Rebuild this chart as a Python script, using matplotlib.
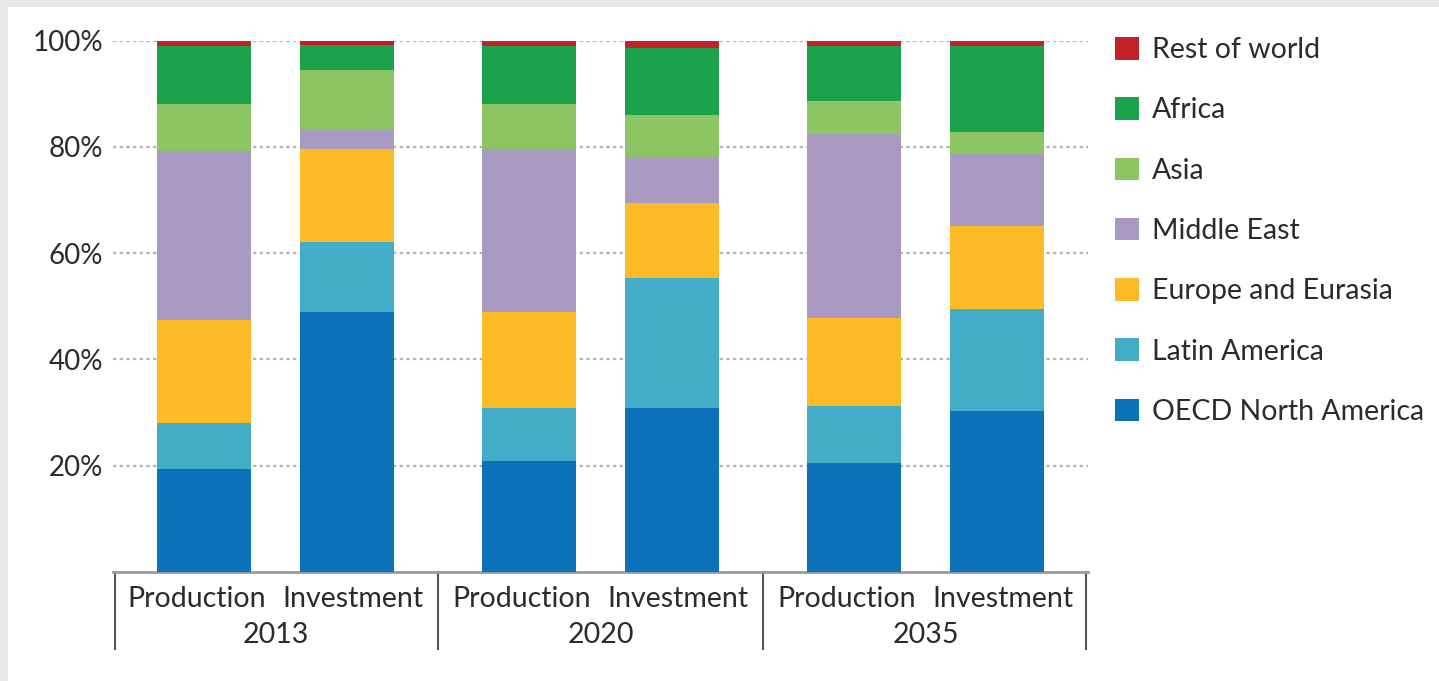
import numpy as np
import matplotlib.pyplot as plt
from matplotlib.patches import Patch, Rectangle
import matplotlib.transforms as mtransforms

plt.rcParams['font.family'] = ['Lato', 'DejaVu Sans']

# shares (%) per region, bars in order: 2013 P/I, 2020 P/I, 2035 P/I
years = ['2013', '2020', '2035']
kinds = ['Production', 'Investment']
regions = ['OECD North America', 'Latin America', 'Europe and Eurasia',
           'Middle East', 'Asia', 'Africa', 'Rest of world']
oecd_na = [19.3, 49.0, 20.8, 30.8, 20.5, 30.3]
latin_am = [8.8, 13.1, 10.0, 24.5, 10.7, 19.2]
europe_eurasia = [19.4, 17.6, 18.2, 14.1, 16.7, 15.7]
middle_east = [31.8, 3.7, 30.7, 8.8, 34.5, 13.5]
asia = [8.8, 11.0, 8.4, 7.8, 6.2, 4.2]
africa = [10.9, 4.7, 10.9, 12.6, 10.4, 16.1]
rest_world = [1.0, 0.9, 1.0, 1.4, 1.0, 1.0]

series = [oecd_na, latin_am, europe_eurasia, middle_east, asia, africa, rest_world]
colors = ['#0b71b9', '#43acc6', '#fdbb27', '#a99ac1', '#8cc563', '#1aa34a', '#c4202a']

group_gap = 2.27
x = np.array([g * group_gap + k for g in range(len(years)) for k in range(len(kinds))])
group_centers = np.array([g * group_gap + 0.5 for g in range(len(years))])

fig = plt.figure(figsize=(14.39, 6.81), dpi=100, facecolor='#e9e9e9')
fig.patches.append(Rectangle((8 / 1439, 0), 1, 1 - 7 / 681, transform=fig.transFigure,
                             facecolor='white', edgecolor='none', zorder=-10))
ax = fig.add_axes([113 / 1439, 1 - 572 / 681, (1088 - 113) / 1439, (572 - 40.7) / 681])
ax.set_facecolor('none')

bottom = np.zeros(len(x))
for vals, col in zip(series, colors):
    ax.bar(x, vals, width=0.66, bottom=bottom, color=col, zorder=3)
    bottom += np.array(vals)

ax.set_xlim(-0.635, group_centers[-1] + 1.135)
ax.set_ylim(0, 100)
ax.set_yticks([20, 40, 60, 80, 100])
ax.set_yticklabels(['20%', '40%', '60%', '80%', '100%'], fontsize=20, color='#2b2b2b')
ax.set_xticks([])
ax.tick_params(axis='y', length=0, pad=7)
ax.yaxis.grid(True, linestyle=(0, (1.5, 1.5)), color='#b5b5b5', linewidth=1.6, zorder=0)

for side in ['left', 'right', 'top']:
    ax.spines[side].set_visible(False)
ax.spines['bottom'].set_color('#9a9a9a')
ax.spines['bottom'].set_linewidth(2)

# category labels under the axis
trans = mtransforms.blended_transform_factory(ax.transData, ax.transAxes)
for i, xi in enumerate(x):
    shift = -0.05 if i % 2 == 0 else 0.04
    ax.text(xi + shift, -0.05, kinds[i % 2], transform=trans, ha='center', va='center',
            fontsize=20.5, color='#2b2b2b')
for gc, yr in zip(group_centers, years):
    ax.text(gc, -0.118, yr, transform=trans, ha='center', va='center',
            fontsize=20.5, color='#2b2b2b')

seps = [-0.62] + list((group_centers[:-1] + group_centers[1:]) / 2) + [group_centers[-1] + 1.12]
for s in seps:
    ax.plot([s, s], [0, -0.145], transform=trans, color='#555555', linewidth=1.5,
            clip_on=False)

handles = [Patch(facecolor=c, edgecolor='none') for c in colors][::-1]
fig.legend(handles, regions[::-1], loc='upper left',
           bbox_to_anchor=(1115 / 1439, 1 - 37 / 681), frameon=False, fontsize=20.5,
           handlelength=0.84, handleheight=0.84, handletextpad=0.45,
           labelspacing=1.2, borderpad=0, borderaxespad=0, labelcolor='#2b2b2b')

fig.savefig('out.png', dpi=100, facecolor=fig.get_facecolor())
